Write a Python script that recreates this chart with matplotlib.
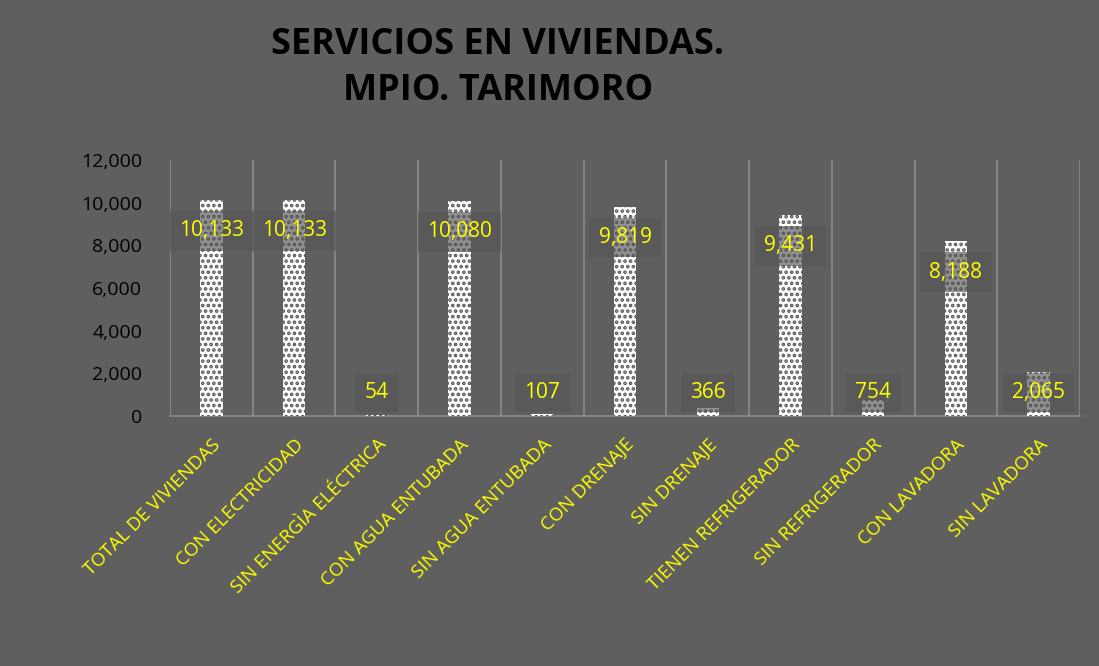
import matplotlib
matplotlib.use("Agg")
import matplotlib.pyplot as plt
import numpy as np

categories = ["TOTAL DE VIVIENDAS", "CON ELECTRICIDAD", "SIN ENERGÌA ELÉCTRICA",
              "CON AGUA ENTUBADA", "SIN AGUA ENTUBADA", "CON DRENAJE", "SIN DRENAJE",
              "TIENEN REFRIGERADOR", "SIN REFRIGERADOR", "CON LAVADORA", "SIN LAVADORA"]
values = [10133, 10133, 54, 10080, 107, 9819, 366, 9431, 754, 8188, 2065]
yticks = [0, 2000, 4000, 6000, 8000, 10000, 12000]

BG = "#5f5f5f"
plt.rcParams['hatch.linewidth'] = 1.8

fig = plt.figure(figsize=(10.99, 6.66), dpi=100, facecolor=BG)
ax = fig.add_axes([0.1547, 0.3754, 0.8280, 0.3844], facecolor=BG)

x = np.arange(len(categories))
ax.bar(x, values, width=0.27, color="white", edgecolor="#5a5a5a", linewidth=0,
       hatch="...", zorder=3)

ax.set_xlim(-0.5, len(categories) - 0.5)
ax.set_ylim(0, 12000)
ax.set_yticks(yticks)
ax.set_yticklabels([f"{v:,}" for v in yticks], fontsize=14, color="black", family="Open Sans")

ax.set_xticks(x)
ax.set_xticklabels(categories, rotation=45, ha="right", rotation_mode="anchor",
                   color="#ffff00", fontsize=13.5, family="Open Sans")
ax.set_xticks(np.arange(-0.5, len(categories), 1.0), minor=True)
ax.tick_params(axis="x", which="both", length=0, pad=14)
ax.tick_params(axis="y", length=0, pad=20)
ax.grid(True, axis="x", which="minor", color="#8c8c8c", linewidth=1.2, zorder=1)
ax.grid(False, axis="y")
ax.grid(False, axis="x", which="major")
for side in ["top", "right", "left"]:
    ax.spines[side].set_visible(False)
ax.spines["bottom"].set_color("#8c8c8c")
ax.spines["bottom"].set_linewidth(1.2)

for xi, v in zip(x, values):
    y = v - 1450 if v > 5000 else 1100
    ax.text(xi, y, f"{v:,}", ha="center", va="center", color="#ffff00",
            fontsize=15, family="Open Sans", zorder=5,
            bbox=dict(boxstyle="square,pad=0.45", facecolor="#565656", alpha=0.65,
                      edgecolor="none"))

fig.text(0.453, 0.898, "SERVICIOS EN VIVIENDAS.\nMPIO. TARIMORO", ha="center", va="center",
         fontsize=26, fontweight="bold", color="black", family="Open Sans",
         linespacing=1.38)

fig.savefig("out.png", dpi=100, facecolor=BG)
